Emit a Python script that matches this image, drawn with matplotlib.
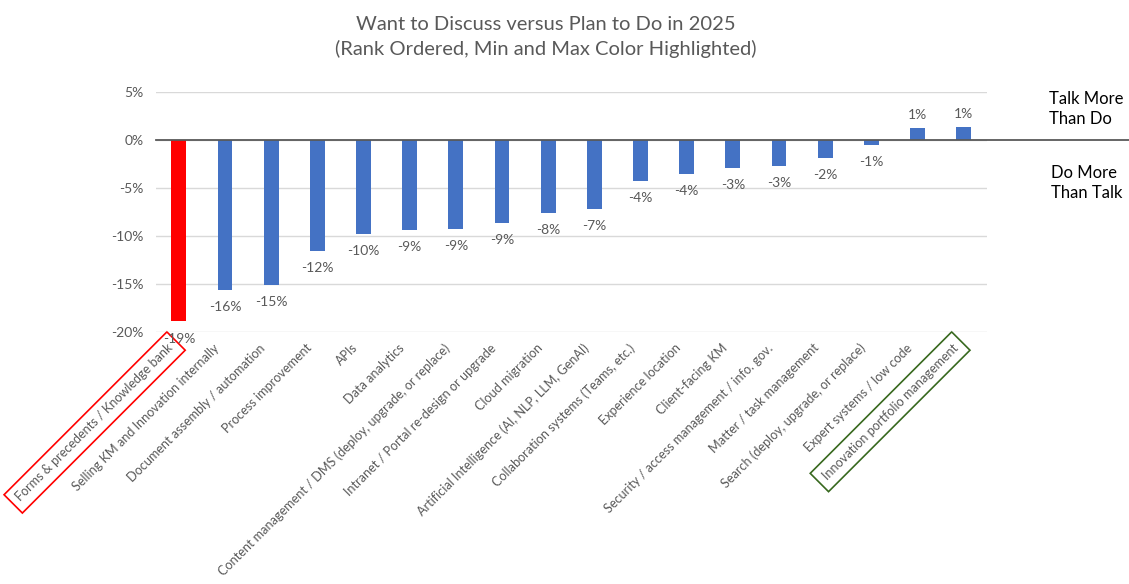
import matplotlib.pyplot as plt
from matplotlib.ticker import FuncFormatter
from matplotlib.transforms import ScaledTranslation, blended_transform_factory
from matplotlib.lines import Line2D

plt.rcParams['font.family'] = ['Lato', 'DejaVu Sans']

categorias = [
    "Forms & precedents / Knowledge bank",
    "Selling KM and Innovation internally",
    "Document assembly / automation",
    "Process improvement",
    "APIs",
    "Data analytics",
    "Content management / DMS (deploy, upgrade, or replace)",
    "Intranet / Portal re-design or upgrade",
    "Cloud migration",
    "Artificial Intelligence (AI, NLP, LLM, GenAI)",
    "Collaboration systems (Teams, etc.)",
    "Experience location",
    "Client-facing KM",
    "Security / access management / info. gov.",
    "Matter / task management",
    "Search (deploy, upgrade, or replace)",
    "Expert systems / low code",
    "Innovation portfolio management",
]
diferencias = [-18.9, -15.6, -15.1, -11.6, -9.8, -9.4, -9.3, -8.6, -7.6,
               -7.2, -4.3, -3.55, -2.95, -2.7, -1.9, -0.55, 1.25, 1.4]
ticks_y = [5, 0, -5, -10, -15, -20]

GRIS = "#595959"
AZUL = "#4472C4"

fig = plt.figure(figsize=(11.29, 5.84), dpi=100)
ax = fig.add_axes([0.138, 0.4315, 0.736, 0.411])

x = list(range(len(diferencias)))
i_min = diferencias.index(min(diferencias))
colores = ["#FF0000" if i == i_min else AZUL for i in x]
ax.bar(x, diferencias, width=0.32, color=colores, zorder=3)

# etiquetas de valor encima o debajo de cada barra
for xi, v in zip(x, diferencias):
    txt = f"{round(v):.0f}%"
    if v < 0:
        ax.annotate(txt, (xi, v), xytext=(0, -8), textcoords="offset points",
                    ha="center", va="top", fontsize=10, color=GRIS)
    else:
        ax.annotate(txt, (xi, v), xytext=(0, 5), textcoords="offset points",
                    ha="center", va="bottom", fontsize=10, color=GRIS)

ax.set_xlim(-0.5, len(diferencias) - 0.5)
ax.set_ylim(-20, 5)
ax.set_yticks(ticks_y)
ax.yaxis.set_major_formatter(FuncFormatter(lambda v, _: f"{v:.0f}%"))
ax.grid(axis="y", color="#D9D9D9", linewidth=1, zorder=0)
for s in ax.spines.values():
    s.set_visible(False)
ax.tick_params(axis="both", length=0, colors=GRIS, labelsize=10)
ax.tick_params(axis="y", pad=9)

# línea del cero, prolongada hasta el borde derecho de la figura
trans = blended_transform_factory(fig.transFigure, ax.transData)
fig.add_artist(Line2D([0.138, 1.0], [0, 0], transform=trans,
                      color=GRIS, linewidth=1.3, zorder=4))

ax.set_xticks(x)
ax.set_xticklabels(categorias, rotation=45, ha="right", rotation_mode="anchor",
                   fontsize=9.1, color=GRIS)
ax.tick_params(axis="x", pad=7)
desplazar = ScaledTranslation(-0.12, 0, fig.dpi_scale_trans)
for et in ax.get_xticklabels():
    et.set_transform(et.get_transform() + desplazar)
etiquetas = ax.get_xticklabels()
etiquetas[0].set_bbox(dict(boxstyle="square,pad=0.55", fc="none", ec="#FF0000", lw=1.2))
etiquetas[-1].set_bbox(dict(boxstyle="square,pad=0.55", fc="none", ec="#38691F", lw=1.2))

fig.text(0.4836, 0.972, "Want to Discuss versus Plan to Do in 2025\n"
         "(Rank Ordered, Min and Max Color Highlighted)",
         ha="center", va="top", fontsize=14.5, color=GRIS, linespacing=1.45)

fig.text(0.929, 0.814, "Talk More\nThan Do", ha="left", va="center",
         fontsize=12, color="black", linespacing=1.3)
fig.text(0.931, 0.686, "Do More\nThan Talk", ha="left", va="center",
         fontsize=12, color="black", linespacing=1.3)

fig.savefig("out.png", dpi=100)
